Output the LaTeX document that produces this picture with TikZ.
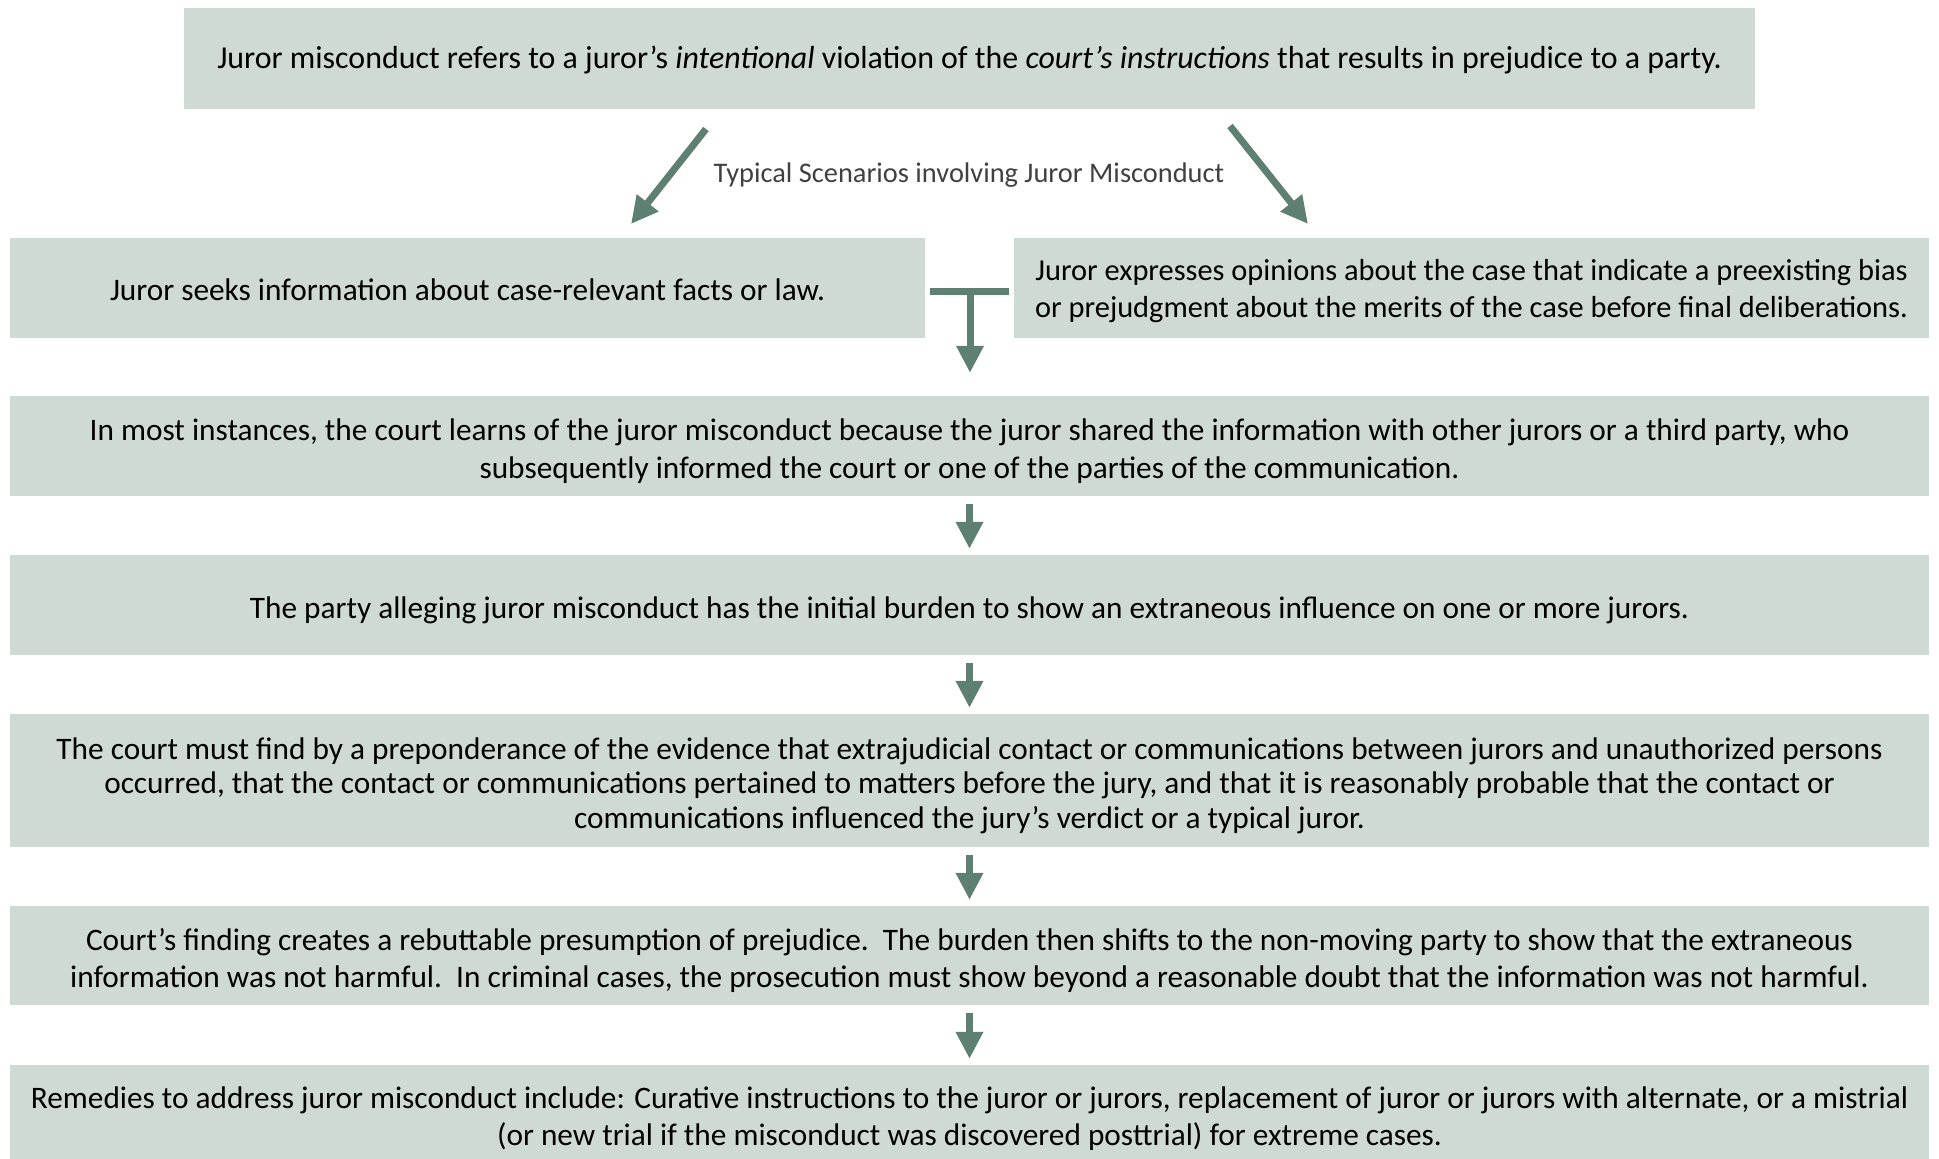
\documentclass[tikz,border=0pt]{standalone}
\usepackage{fontspec}
\setmainfont{Carlito}
\usetikzlibrary{arrows.meta}

\definecolor{boxfill}{RGB}{208,218,213}
\definecolor{arrowgreen}{RGB}{94,128,114}
\definecolor{labelgray}{RGB}{64,64,64}

\begin{document}
\begin{tikzpicture}[
        x=1pt, y=-1pt,
        flow/.style={-{Triangle[width=26pt,length=27pt]}, line width=7pt, draw=arrowgreen},
        bar/.style={line width=7pt, draw=arrowgreen, shorten <=5pt, shorten >=5pt}
    ]
    \useasboundingbox (0,0) rectangle (1939,1159);

    \tikzstyle{box} = [
        fill = boxfill,
        inner sep = 0pt,
        align = center,
        minimum width = 1919pt,
        minimum height = 100pt,
        text depth = -4pt,
        font = \fontsize{31.3}{37}\selectfont
    ]
    \tikzstyle{halfbox} = [box, minimum width = 915pt, text depth = 2pt]

    % definition on top
    \node [box, minimum width=1571pt, minimum height=101pt, text depth=2pt, font=\fontsize{31.9}{37}\selectfont] (def) at (969.5,58.5)
        {Juror misconduct refers to a juror’s \emph{intentional} violation of the \emph{court’s instructions} that results in prejudice to a party.};
    \node [font=\fontsize{28.4}{32}\selectfont, text=labelgray] (scen) at (969,175)
        {Typical Scenarios involving Juror Misconduct};

    % the two scenarios
    \node [halfbox, text height=27pt] (seek) at (467.5,288)
        {Juror seeks information about case-relevant facts or law.};
    \node [halfbox, text depth=-2pt, font=\fontsize{30.4}{37}\selectfont] (opine) at (1471.5,288)
        {Juror expresses opinions about the case that indicate a preexisting bias\\
         or prejudgment about the merits of the case before final deliberations.};

    % the steps
    \node [box, text height=65pt, font=\fontsize{31.3}{38}\selectfont] (inform) at (969.5,446)
        {In most instances, the court learns of the juror misconduct because the juror shared the information with other jurors or a third party, who\\
         subsequently informed the court or one of the parties of the communication.};
    \node [box, text height=27pt] (burden) at (969.5,605)
        {The party alleging juror misconduct has the initial burden to show an extraneous influence on one or more jurors.};
    \node [box, minimum height=133pt, text height=96pt, font=\fontsize{31.3}{34.6}\selectfont] (find) at (969.5,780.5)
        {The court must find by a preponderance of the evidence that extrajudicial contact or communications between jurors and unauthorized persons\\
         occurred, that the contact or communications pertained to matters before the jury, and that it is reasonably probable that the contact or\\
         communications influenced the jury’s verdict or a typical juror.};
    \node [box, minimum height=99pt, text height=64pt] (presume) at (969.5,955.5)
        {Court’s finding creates a rebuttable presumption of prejudice.\ \ The burden then shifts to the non-moving party to show that the extraneous\\
         information was not harmful.\ \ In criminal cases, the prosecution must show beyond a reasonable doubt that the information was not harmful.};
    \node [box, minimum height=94pt, text height=66pt] (remedy) at (969.5,1112)
        {Remedies to address juror misconduct include: Curative instructions to the juror or jurors, replacement of juror or jurors with alternate, or a mistrial\\
         (or new trial if the misconduct was discovered posttrial) for extreme cases.};

    % connectors
    \coordinate (seekfrom) at (706,129);
    \coordinate (seekto) at (631,224);
    \coordinate (opinefrom) at (1230,126);
    \coordinate (opineto) at (1308,224);
    \coordinate (tee) at (970,291);

    \draw [flow] (seekfrom) -- (seekto);
    \draw [flow] (opinefrom) -- (opineto);
    \draw [bar] (seek.east |- tee) -- (opine.west |- tee);
    \draw [flow, shorten >=23pt] (tee) -- (tee |- inform.north);
    \draw [flow, shorten <=8pt, shorten >=6pt] (inform.south) -- (burden.north);
    \draw [flow, shorten <=8pt, shorten >=6pt] (burden.south) -- (find.north);
    \draw [flow, shorten <=8pt, shorten >=6pt] (find.south) -- (presume.north);
    \draw [flow, shorten <=8pt, shorten >=6pt] (presume.south) -- (remedy.north);
\end{tikzpicture}
\end{document}
